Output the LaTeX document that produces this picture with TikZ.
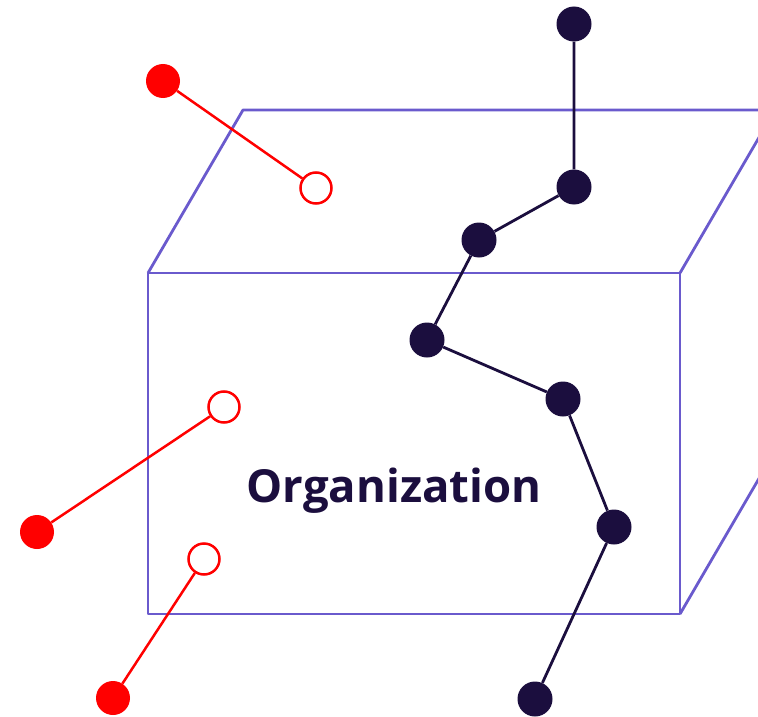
\documentclass[tikz,border=0pt]{standalone}
\usepackage{fontspec}
\setmainfont{Open Sans}
\definecolor{boxpurple}{RGB}{106,90,205}
\definecolor{darknavy}{RGB}{27,14,62}
\definecolor{redc}{RGB}{255,0,0}
\begin{document}
\begin{tikzpicture}[x=1pt,y=-1pt,
  boxline/.style={draw=boxpurple,line width=2.8pt,line join=round},
  redlink/.style={draw=redc,line width=2.5pt},
  darklink/.style={draw=darknavy,line width=2.8pt},
  redfull/.style={circle,fill=redc,inner sep=0pt,minimum size=34pt},
  redopen/.style={circle,draw=redc,fill=white,line width=2.5pt,inner sep=0pt,minimum size=31pt},
  darkdot/.style={circle,fill=darknavy,inner sep=0pt,minimum size=35pt}]
\clip (0,0) rectangle (758,717);
% box corners
\coordinate (ftl) at (148,273);
\coordinate (ftr) at (680,273);
\coordinate (fbr) at (680,614);
\coordinate (fbl) at (148,614);
\coordinate (btl) at (243,110);
\coordinate (btr) at (775,110);
\coordinate (bbr) at (775,451);
\draw[boxline] (ftl) -- (ftr) -- (fbr) -- (fbl) -- cycle;
\draw[boxline] (ftl) -- (btl) -- (btr);
\draw[boxline] (ftr) -- (btr);
\draw[boxline] (fbr) -- (bbr);
% label
\node[text=darknavy,font=\fontsize{45.5}{50}\selectfont\bfseries] (org) at (394,491) {Organization};
% red pairs
\node[redfull] (r1) at (163,81) {};
\node[redopen] (o1) at (316,188) {};
\node[redopen] (o2) at (224,407) {};
\node[redfull] (r2) at (37,532) {};
\node[redopen] (o3) at (204,559) {};
\node[redfull] (r3) at (113,698) {};
\draw[redlink] (r1) -- (o1);
\draw[redlink] (o2) -- (r2);
\draw[redlink] (o3) -- (r3);
% dark chain
\node[darkdot] (d1) at (574,24) {};
\node[darkdot] (d2) at (574,187) {};
\node[darkdot] (d3) at (479,240) {};
\node[darkdot] (d4) at (427,340) {};
\node[darkdot] (d5) at (563,399) {};
\node[darkdot] (d6) at (614,527) {};
\node[darkdot] (d7) at (535,699) {};
\draw[darklink] (d1) -- (d2) -- (d3) -- (d4) -- (d5) -- (d6) -- (d7);
\end{tikzpicture}
\end{document}
